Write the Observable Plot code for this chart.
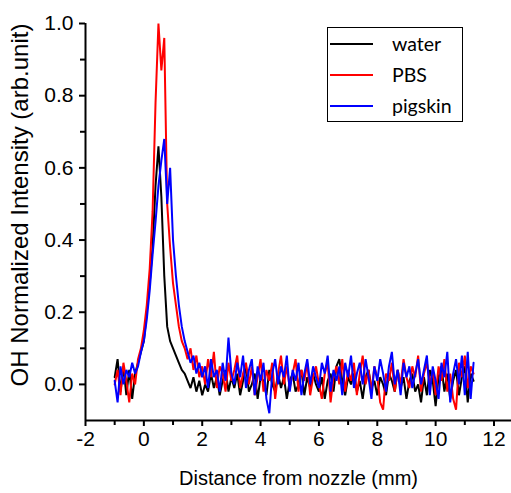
<!DOCTYPE html>
<html>
<head>
<meta charset="utf-8">
<script src="https://cdn.jsdelivr.net/npm/d3@7"></script>
<script src="https://cdn.jsdelivr.net/npm/@observablehq/plot@0.6"></script>
<style>
  html, body { margin: 0; padding: 0; background: #fff; }
  #wrap { position: relative; width: 511px; height: 493px; }
  #legend {
    position: absolute; left: 327px; top: 27px; width: 136px; height: 95px;
    border: 1.5px solid #000; box-sizing: border-box; background: #fff;
    font-family: Lato, "Liberation Sans", sans-serif; font-size: 19.5px; line-height: 23px;
  }
  .ln { position: absolute; left: 2px; width: 43px; height: 2px; }
  .tx { position: absolute; left: 64px; white-space: nowrap; }
</style>
</head>
<body>
<div id="wrap"><div id="chart"></div><div id="legend"></div></div>
<script>
// sample positions (mm), step 0.1 from -1.0 to 11.3
const distance = d3.range(0, 124).map(i => Math.round((-1 + i * 0.1) * 10) / 10);

const seriesNames = ["water", "PBS", "pigskin"];
const seriesColors = ["#000000", "#ff0000", "#0000ff"];

const water = [
  0.02, 0.07, -0.02, 0.05, -0.03, 0.04, -0.04, 0.03, 0.06, 0.09,
  0.12, 0.20, 0.28, 0.38, 0.55, 0.66, 0.52, 0.30, 0.16, 0.12,
  0.10, 0.08, 0.06, 0.04, 0.03, 0.01, -0.01, 0.02, -0.02, 0.01, -0.03,
  0.00, -0.02, 0.03, -0.01, 0.02, -0.03, 0.01, 0.04, -0.02, 0.02,
  -0.01, 0.03, -0.03, 0.01, 0.05, -0.02, 0.00, 0.03, -0.04, 0.02,
  0.01, -0.03, 0.04, 0.00, -0.02, 0.03, -0.01, 0.02, -0.04, 0.01,
  0.03, -0.02, 0.00, 0.04, -0.03, 0.02, -0.01, 0.03, 0.00, -0.02,
  0.02, -0.04, 0.01, 0.03, -0.02, 0.05, 0.07, 0.01, -0.03, 0.02,
  0.00, 0.03, -0.02, 0.01, -0.04, 0.02, 0.04, -0.01, 0.01, -0.03,
  0.02, 0.00, -0.03, 0.03, 0.01, -0.02, 0.04, -0.01, 0.02, -0.04,
  0.01, 0.03, -0.02, 0.00, -0.05, 0.02, -0.03, 0.04, 0.01, -0.06,
  0.02, 0.05, -0.02, 0.03, -0.04, 0.01, 0.04, -0.03, 0.02, 0.05,
  -0.05, 0.03, 0.01
];

const pbs = [
  0.00, 0.04, -0.03, 0.06, 0.01, -0.05, 0.03, 0.00, 0.07, 0.10,
  0.15, 0.22, 0.32, 0.48, 0.78, 1.00, 0.87, 0.96, 0.50, 0.38,
  0.28, 0.22, 0.16, 0.12, 0.10, 0.07, 0.10, 0.04, 0.08, 0.02, 0.05,
  0.00, 0.07, 0.02, 0.09, -0.01, 0.05, 0.03, -0.02, 0.06, 0.01,
  0.04, 0.08, -0.01, 0.03, 0.06, 0.00, 0.05, -0.03, 0.02, 0.07,
  -0.02, 0.04, 0.01, 0.06, -0.04, 0.03, 0.08, 0.00, 0.05, -0.01,
  0.03, 0.07, -0.02, 0.04, 0.01, 0.06, -0.03, 0.02, 0.05, 0.00,
  -0.04, 0.03, 0.06, -0.05, 0.02, 0.05, 0.00, 0.07, -0.02, 0.04,
  0.01, 0.06, -0.03, 0.03, 0.08, 0.00, 0.04, -0.02, 0.05, 0.02,
  -0.05, -0.07, 0.03, 0.01, 0.06, -0.02, 0.04, 0.00, 0.07, 0.02,
  -0.01, 0.05, 0.02, 0.08, -0.02, 0.03, 0.06, 0.00, 0.04, -0.03,
  0.05, 0.01, 0.07, -0.02, 0.03, -0.04, -0.07, 0.06, 0.02, 0.08,
  -0.01, 0.05, 0.03
];

const pigskin = [
  0.01, -0.05, 0.05, 0.00, 0.04, 0.02, 0.06, 0.03, 0.05, 0.09,
  0.12, 0.18, 0.26, 0.36, 0.45, 0.55, 0.62, 0.68, 0.50, 0.60,
  0.40, 0.30, 0.22, 0.16, 0.12, 0.09, 0.06, 0.08, 0.03, 0.06, 0.02,
  0.05, -0.01, 0.07, 0.02, 0.04, -0.02, 0.06, 0.01, 0.13, 0.03,
  0.00, 0.06, 0.02, 0.08, -0.01, 0.04, 0.07, -0.03, 0.05, 0.01,
  0.06, -0.04, -0.08, 0.03, 0.07, 0.00, 0.05, 0.02, 0.08, -0.02,
  0.04, 0.01, 0.06, -0.03, 0.03, 0.07, 0.00, 0.05, 0.02, -0.01,
  0.06, 0.03, 0.08, -0.02, 0.04, 0.01, 0.05, -0.03, 0.06, 0.02,
  0.08, -0.01, 0.03, 0.06, 0.00, 0.07, 0.02, -0.04, 0.05, 0.01,
  0.07, 0.03, -0.02, 0.05, 0.09, 0.00, 0.04, -0.03, 0.06, 0.02,
  0.05, -0.01, 0.03, 0.07, 0.00, 0.04, 0.08, -0.03, 0.05, 0.01,
  -0.04, 0.06, 0.02, 0.09, -0.05, 0.03, 0.07, 0.00, 0.08, -0.03,
  0.09, -0.04, 0.06
];

const xMajor = [-2, 0, 2, 4, 6, 8, 10, 12];
const xMinor = [-1, 1, 3, 5, 7, 9, 11];
const yMajor = [0, 0.2, 0.4, 0.6, 0.8, 1.0];
const yMinor = [0.1, 0.3, 0.5, 0.7, 0.9];
const xLabel = "Distance from nozzle (mm)";
const yLabel = "OH Normalized Intensity (arb.unit)";

const allSeries = [water, pbs, pigskin];
const rows = [];
allSeries.forEach((vals, s) => {
  vals.forEach((v, i) => rows.push({ x: distance[i], y: v, series: seriesNames[s] }));
});

const FONT = "'Liberation Sans', Arial, sans-serif";
const blank = () => "";

const chart = Plot.plot({
  width: 511,
  height: 493,
  marginLeft: 85,
  marginTop: 23,
  marginBottom: 73,
  marginRight: 0,
  style: { fontFamily: FONT, fontSize: "20px", color: "#000", background: "#fff" },
  x: { domain: [-2, 12.6] },
  y: { domain: [-0.1, 1.0] },
  color: { domain: seriesNames, range: seriesColors },
  marks: [
    Plot.line(rows, { x: "x", y: "y", z: "series", stroke: "series", strokeWidth: 2, strokeLinejoin: "miter" }),
    Plot.ruleX([-2], { strokeWidth: 2 }),
    Plot.ruleY([-0.1], { strokeWidth: 2 }),
    Plot.axisX({ ticks: xMajor, tickSize: 6, tickPadding: 5, tickFormat: d => `${d}`, label: null, strokeWidth: 2, fontSize: 21, fontFamily: FONT }),
    Plot.axisX({ ticks: xMinor, tickSize: 5, tickFormat: blank, label: null, strokeWidth: 2 }),
    Plot.axisY({ ticks: yMajor, tickSize: 6, tickPadding: 6, tickFormat: d3.format(".1f"), label: null, strokeWidth: 2, fontSize: 21, fontFamily: FONT }),
    Plot.axisY({ ticks: yMinor, tickSize: 5, tickFormat: blank, label: null, strokeWidth: 2 }),
    Plot.axisX({ ticks: [], label: xLabel, labelAnchor: "center", labelArrow: "none", labelOffset: 64, fontSize: 20, fontFamily: FONT }),
    Plot.text([yLabel], { text: d => d, frameAnchor: "left", textAnchor: "middle", lineAnchor: "middle", rotate: -90, dx: -65, dy: -17, fontSize: 24, fontFamily: FONT, fill: "#000" })
  ]
});
document.getElementById("chart").appendChild(chart);

const legend = document.getElementById("legend");
seriesNames.forEach((name, i) => {
  const ln = document.createElement("div");
  ln.className = "ln";
  ln.style.top = (14.5 + i * 31) + "px";
  ln.style.background = seriesColors[i];
  const tx = document.createElement("div");
  tx.className = "tx";
  tx.style.top = (4 + i * 31) + "px";
  tx.textContent = name;
  legend.appendChild(ln);
  legend.appendChild(tx);
});
</script>
</body>
</html>
